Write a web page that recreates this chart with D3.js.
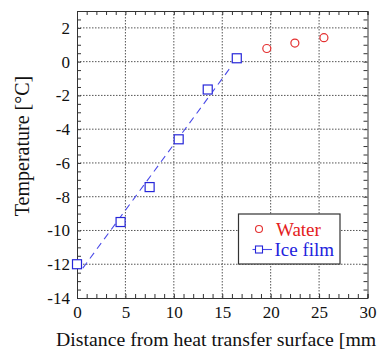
<!DOCTYPE html>
<html>
<head>
<meta charset="utf-8">
<script src="https://cdn.jsdelivr.net/npm/d3@7"></script>
<style>
  body { margin: 0; background: #fff; overflow: hidden; }
  svg { display: block; }
  text { font-family: "Liberation Serif", "Times New Roman", serif; }
</style>
</head>
<body>
<div id="chart"></div>
<script>
// data
var waterX = [19.6, 22.5, 25.5];
var waterY = [0.78, 1.1, 1.42];

var iceX = [0, 4.5, 7.5, 10.5, 13.5, 16.5];
var iceY = [-12.0, -9.5, -7.43, -4.6, -1.65, 0.2];

// dashed fit line through the ice film points
var fitX = [0.6, 15.8];
var fitY = [-12.23, -0.38];

var xTicks = [0, 5, 10, 15, 20, 25, 30];
var yTicks = [-14, -12, -10, -8, -6, -4, -2, 0, 2];

var svgWidth = 380;
var svgHeight = 352;

var margin = { top: 11, right: 12.5, bottom: 54, left: 77 };
var width = svgWidth - margin.left - margin.right;
var height = svgHeight - margin.top - margin.bottom;

var svg = d3.select("#chart")
    .append("svg")
    .attr("width", svgWidth)
    .attr("height", svgHeight);

var chartGroup = svg.append("g")
    .attr("transform", `translate(${margin.left}, ${margin.top})`);

var x = d3.scaleLinear().domain([0, 30]).range([0, width]);
var y = d3.scaleLinear().domain([-14, 3]).range([height, 0]);

// grid lines (dotted)
var gridX = xTicks.filter(d => d > 0 && d < 30);
var gridY = yTicks.filter(d => d > -14);

chartGroup.append("g")
    .selectAll("line")
    .data(gridX)
    .enter()
    .append("line")
    .attr("x1", d => x(d))
    .attr("x2", d => x(d))
    .attr("y1", 0)
    .attr("y2", height)
    .attr("stroke", "#555")
    .attr("stroke-width", 1)
    .attr("stroke-dasharray", "1.5,1.5");

chartGroup.append("g")
    .selectAll("line")
    .data(gridY)
    .enter()
    .append("line")
    .attr("x1", 0)
    .attr("x2", width)
    .attr("y1", d => y(d))
    .attr("y2", d => y(d))
    .attr("stroke", "#555")
    .attr("stroke-width", 1)
    .attr("stroke-dasharray", "1.5,1.5");

// minor ticks (inward, all four sides)
var xMinor = d3.range(0, 31, 1);
var yMinor = d3.range(-14, 3.01, 0.5);

function styleAxis(g) {
    g.attr("font-family", null);
    g.select(".domain").attr("stroke", "#333");
    g.selectAll(".tick line").attr("stroke", "#333");
    g.selectAll("text")
        .attr("font-size", "17px")
        .attr("fill", "#111");
}

chartGroup.append("g")
    .attr("transform", `translate(0, ${height})`)
    .call(d3.axisBottom(x).tickValues(xMinor).tickSize(-4).tickFormat(""))
    .call(styleAxis);

chartGroup.append("g")
    .call(d3.axisTop(x).tickValues(xMinor).tickSize(-4).tickFormat(""))
    .call(styleAxis);

chartGroup.append("g")
    .call(d3.axisLeft(y).tickValues(yMinor).tickSize(-4).tickFormat(""))
    .call(styleAxis);

chartGroup.append("g")
    .attr("transform", `translate(${width}, 0)`)
    .call(d3.axisRight(y).tickValues(yMinor).tickSize(-4).tickFormat(""))
    .call(styleAxis);

// labelled axes
var xAxis = chartGroup.append("g")
    .attr("transform", `translate(0, ${height})`)
    .call(d3.axisBottom(x).tickValues(xTicks).tickSize(0))
    .call(styleAxis);
xAxis.select(".domain").remove();
xAxis.selectAll("text").attr("y", 20).attr("dy", 0);

var yAxis = chartGroup.append("g")
    .call(d3.axisLeft(y).tickValues(yTicks).tickSize(0).tickPadding(7)
        .tickFormat(d => d < 0 ? "-" + Math.abs(d) : d))
    .call(styleAxis);
yAxis.select(".domain").remove();

// fit line
chartGroup.append("line")
    .attr("x1", x(fitX[0]))
    .attr("y1", y(fitY[0]))
    .attr("x2", x(fitX[1]))
    .attr("y2", y(fitY[1]))
    .attr("stroke", "#4a4ae8")
    .attr("stroke-width", 1.1)
    .attr("stroke-dasharray", "7,5");

// ice film squares
var iceData = iceX.map((d, i) => ({ x: d, y: iceY[i] }));
chartGroup.selectAll(".ice")
    .data(iceData)
    .enter()
    .append("rect")
    .attr("class", "ice")
    .attr("x", d => x(d.x) - 4.5)
    .attr("y", d => y(d.y) - 4.5)
    .attr("width", 9)
    .attr("height", 9)
    .attr("fill", "white")
    .attr("stroke", "#2626d9")
    .attr("stroke-width", 1.2);

// water circles
var waterData = waterX.map((d, i) => ({ x: d, y: waterY[i] }));
chartGroup.selectAll(".water")
    .data(waterData)
    .enter()
    .append("circle")
    .attr("class", "water")
    .attr("cx", d => x(d.x))
    .attr("cy", d => y(d.y))
    .attr("r", 4)
    .attr("fill", "white")
    .attr("stroke", "#e43030")
    .attr("stroke-width", 1.2);

// legend
var legend = svg.append("g");
legend.append("rect")
    .attr("x", 238.5)
    .attr("y", 214)
    .attr("width", 101.5)
    .attr("height", 50)
    .attr("fill", "white")
    .attr("stroke", "#333")
    .attr("stroke-width", 1.2);

legend.append("circle")
    .attr("cx", 259)
    .attr("cy", 229)
    .attr("r", 3.5)
    .attr("fill", "none")
    .attr("stroke", "#e43030")
    .attr("stroke-width", 1.1);
legend.append("text")
    .attr("x", 276)
    .attr("y", 235.5)
    .attr("font-size", "19px")
    .attr("fill", "#e42020")
    .text("Water");

legend.append("line")
    .attr("x1", 252.5)
    .attr("x2", 272)
    .attr("y1", 249.5)
    .attr("y2", 249.5)
    .attr("stroke", "#4a4ae8")
    .attr("stroke-width", 1.1);
legend.append("rect")
    .attr("x", 255.5)
    .attr("y", 246)
    .attr("width", 7)
    .attr("height", 7)
    .attr("fill", "white")
    .attr("stroke", "#2626d9")
    .attr("stroke-width", 1.1);
legend.append("text")
    .attr("x", 274.5)
    .attr("y", 255.5)
    .attr("font-size", "19px")
    .attr("fill", "#2222dd")
    .text("Ice film");

// axis titles
svg.append("text")
    .attr("transform", "rotate(-90)")
    .attr("x", -146)
    .attr("y", 29)
    .attr("text-anchor", "middle")
    .attr("font-size", "20px")
    .attr("fill", "#111")
    .text("Temperature [°C]");

// the reference cuts this title at the right edge after "[mm"
svg.append("text")
    .attr("x", 56)
    .attr("y", 346)
    .attr("font-size", "19.8px")
    .attr("fill", "#111")
    .text("Distance from heat transfer surface [mm");
</script>
</body>
</html>
